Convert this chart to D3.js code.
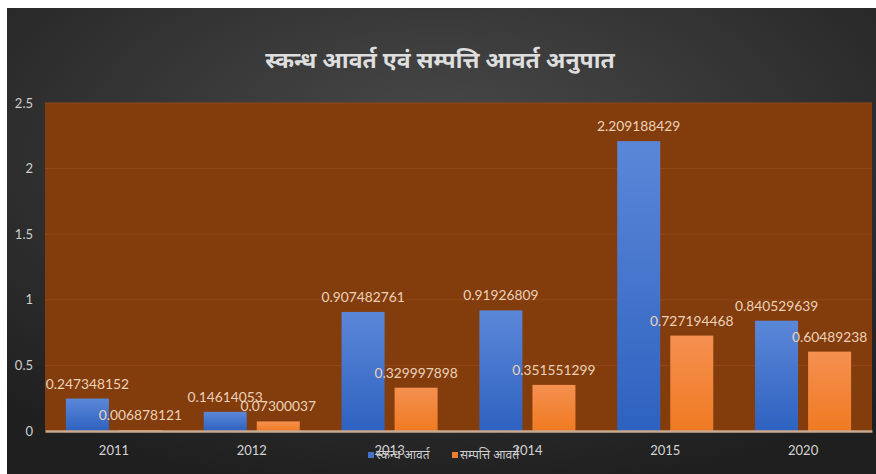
<!DOCTYPE html>
<html><head><meta charset="utf-8">
<script src="https://cdn.jsdelivr.net/npm/d3@7"></script>
<style>html,body{margin:0;padding:0;background:#fff;overflow:hidden}</style>
</head><body><svg id="c" width="876" height="474"></svg>
<script>
const years = ["2011","2012","2013","2014","2015","2020"];
const seriesNames = ["स्कन्ध आवर्त","सम्पत्ति आवर्त"];
const stockTurnover = [0.247348152,0.14614053,0.907482761,0.91926809,2.209188429,0.840529639];
const assetTurnover = [0.006878121,0.07300037,0.329997898,0.351551299,0.727194468,0.60489238];
const yTicks = [0,0.5,1,1.5,2,2.5];
const title = "स्कन्ध आवर्त एवं सम्पत्ति आवर्त अनुपात";

const svg = d3.select("#c");
const defs = svg.append("defs");
const rg = defs.append("radialGradient").attr("id","bg").attr("cx","50%").attr("cy","30%").attr("r","75%");
rg.append("stop").attr("offset","0%").attr("stop-color","#4a4a4a");
rg.append("stop").attr("offset","100%").attr("stop-color","#1f1f1f");
const gb = defs.append("linearGradient").attr("id","gBlue").attr("x1",0).attr("y1",0).attr("x2",0).attr("y2",1);
gb.append("stop").attr("offset","0%").attr("stop-color","#5b87d8");
gb.append("stop").attr("offset","100%").attr("stop-color","#2e62c0");
const go = defs.append("linearGradient").attr("id","gOrange").attr("x1",0).attr("y1",0).attr("x2",0).attr("y2",1);
go.append("stop").attr("offset","0%").attr("stop-color","#f59050");
go.append("stop").attr("offset","100%").attr("stop-color","#f07a22");

svg.append("rect").attr("x",7).attr("y",8).attr("width",869).attr("height",466).attr("fill","url(#bg)");

const L=45,R=872,T=103,B=431;
const y = d3.scaleLinear().domain([0,2.5]).range([B,T]);
const x0 = d3.scaleBand().domain(years).range([L,R]);
const x1 = d3.scaleBand().domain(seriesNames).range([0,x0.bandwidth()]).paddingInner(0.189).paddingOuter(0.394);
const color = d3.scaleOrdinal().domain(seriesNames).range(["url(#gBlue)","url(#gOrange)"]);
const legendColor = d3.scaleOrdinal().domain(seriesNames).range(["#4472c4","#ed7d31"]);

svg.append("rect").attr("x",L).attr("y",T).attr("width",R-L).attr("height",B-T).attr("fill","#833c0c");

// gridlines
svg.append("g").selectAll("line").data(yTicks.slice(1)).join("line")
  .attr("x1",L).attr("x2",R).attr("y1",d=>y(d)).attr("y2",d=>y(d))
  .attr("stroke","#92481a").attr("stroke-width",1);

// y axis labels
const yAxis = svg.append("g").attr("transform",`translate(${L},0)`)
  .call(d3.axisLeft(y).tickValues(yTicks).tickFormat(d3.format("")).tickSize(0).tickPadding(12));
yAxis.select(".domain").remove();
yAxis.selectAll("text").attr("fill","#cfcfcf").attr("font-family","Lato, 'Open Sans', sans-serif").attr("font-size",13);

const data = years.map((yr,i)=>({year:yr, vals:[
  {s:seriesNames[0], v:stockTurnover[i]},
  {s:seriesNames[1], v:assetTurnover[i]}]}));

const groups = svg.append("g").selectAll("g").data(data).join("g")
  .attr("transform",d=>`translate(${x0(d.year)},0)`);
groups.selectAll("rect").data(d=>d.vals).join("rect")
  .attr("x",d=>x1(d.s)).attr("width",x1.bandwidth())
  .attr("y",d=>y(d.v)).attr("height",d=>B-y(d.v))
  .attr("fill",d=>color(d.s));

// x axis
const xAxis = svg.append("g").attr("transform",`translate(0,${B})`)
  .call(d3.axisBottom(x0).tickSize(0).tickPadding(15));
xAxis.select(".domain").attr("stroke","#c9a98f").attr("stroke-width",2.5);
xAxis.selectAll("text").attr("fill","#d4d4d4").attr("font-family","Lato, 'Open Sans', sans-serif").attr("font-size",13);

// data labels
groups.selectAll("text.lbl").data(d=>d.vals).join("text").attr("class","lbl")
  .attr("x",d=>x1(d.s)+x1.bandwidth()/2).attr("y",d=>y(d.v)-10)
  .attr("text-anchor","middle").attr("fill","#ecd2b8")
  .attr("font-family","Lato, 'Open Sans', sans-serif").attr("font-size",13.8)
  .text(d=>String(d.v));

// title
svg.append("text").attr("x",440).attr("y",68).attr("text-anchor","middle")
  .attr("fill","#dedede").attr("font-size",23).attr("font-weight","bold")
  .attr("font-family","'Noto Sans', sans-serif").text(title);

// legend
const lg = svg.append("g");
const lx = [368,452];
seriesNames.forEach((s,i)=>{
  lg.append("rect").attr("x",lx[i]).attr("y",452).attr("width",6).attr("height",6).attr("fill",legendColor(s));
  lg.append("text").attr("x",lx[i]+8).attr("y",459).attr("fill","#cfcfcf")
    .attr("font-size",12).attr("font-family","'Noto Sans', sans-serif").text(s);
});
</script></body></html>
